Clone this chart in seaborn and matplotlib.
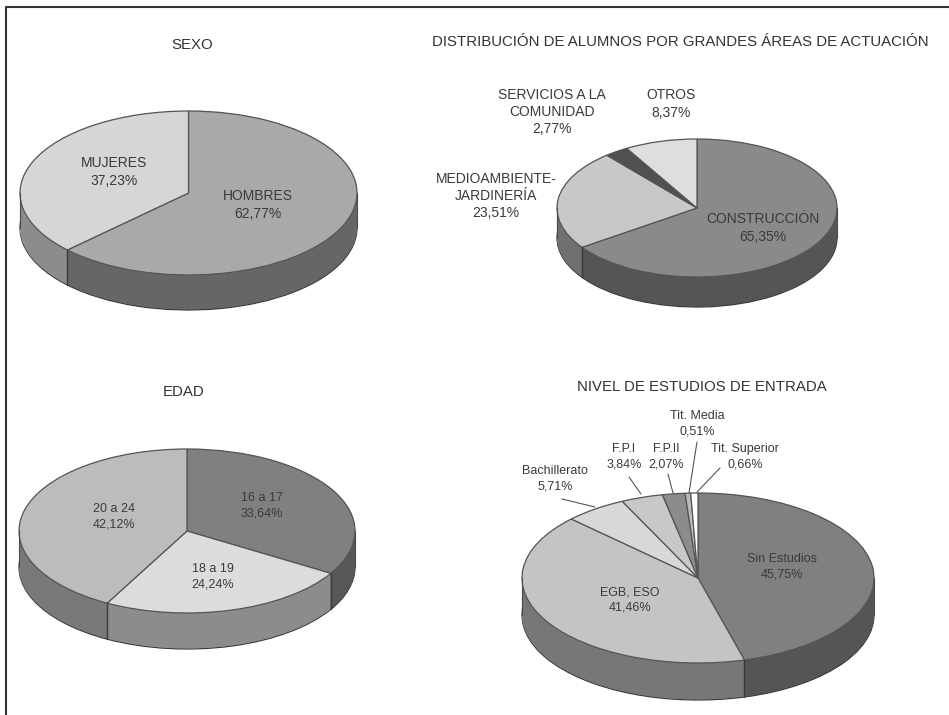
import matplotlib
matplotlib.use('Agg')
import matplotlib.pyplot as plt
import numpy as np
import seaborn as sns

W, H = 949, 715

sexo_labels = ['HOMBRES\n62,77%', 'MUJERES\n37,23%']
sexo_values = [62.77, 37.23]
sexo_top = ['#a9a9a9', '#d6d6d6']
sexo_side = ['#666666', '#8c8c8c']

areas_labels = ['CONSTRUCCIÓN\n65,35%', 'MEDIOAMBIENTE-\nJARDINERÍA\n23,51%',
                'SERVICIOS A LA\nCOMUNIDAD\n2,77%', 'OTROS\n8,37%']
areas_values = [65.35, 23.51, 2.77, 8.37]
areas_top = ['#8a8a8a', '#c8c8c8', '#505050', '#dedede']
areas_side = ['#555555', '#707070', '#444444', '#888888']

edad_labels = ['16 a 17\n33,64%', '18 a 19\n24,24%', '20 a 24\n42,12%']
edad_values = [33.64, 24.24, 42.12]
edad_top = ['#808080', '#dcdcdc', '#bcbcbc']
edad_side = ['#575757', '#8c8c8c', '#797979']

nivel_labels = ['Sin Estudios\n45,75%', 'EGB, ESO\n41,46%', 'Bachillerato\n5,71%',
                'F.P.I\n3,84%', 'F.P.II\n2,07%', 'Tit. Media\n0,51%', 'Tit. Superior\n0,66%']
nivel_values = [45.75, 41.46, 5.71, 3.84, 2.07, 0.51, 0.66]
nivel_top = ['#808080', '#c4c4c4', '#d8d8d8', '#c8c8c8', '#8c8c8c', '#bbbbbb', '#ffffff']
nivel_side = ['#555555', '#777777', '#888888', '#888888', '#555555', '#777777', '#999999']

# layout in pixels of the reference
titles = ['SEXO', 'DISTRIBUCIÓN DE ALUMNOS POR GRANDES ÁREAS DE ACTUACIÓN',
          'EDAD', 'NIVEL DE ESTUDIOS DE ENTRADA']
title_xy = [(192, 45), (680, 42), (184, 392), (702, 387)]
sexo_xy = [(258, 205), (114, 172)]
areas_xy = [(763, 228), (496, 196), (552, 112), (671, 104)]
edad_xy = [(262, 506), (213, 577), (114, 517)]
nivel_xy = [(782, 567), (630, 600), (555, 479), (624, 457), (666, 457), (697, 424), (745, 457)]
nivel_leaders = [((562, 499), (595, 507)), ((629, 477), (641, 494)), ((668, 474), (673, 493)),
                 ((697, 442), (689, 493)), ((720, 468), (697, 492))]

sns.set_theme(style='white')
plt.rcParams['font.family'] = ['Liberation Sans', 'DejaVu Sans']

fig = plt.figure(figsize=(W / 100, H / 100), dpi=100, facecolor='white')


def pie3d(values, top, side, cx, cy, rx, ry, depth):
    ax = fig.add_axes([(cx - rx) / W, 1 - (cy + ry) / H, 2 * rx / W, 2 * ry / H])
    d = depth / ry
    # bottom disc with outline, then the stack that makes the wall
    ax.pie(values, colors=side, startangle=90, counterclock=False, center=(0, -d),
           wedgeprops={'clip_on': False, 'edgecolor': '#3a3a3a', 'linewidth': 0.9})
    for off in np.linspace(d, 0, int(depth * 2))[1:]:
        ax.pie(values, colors=side, startangle=90, counterclock=False, center=(0, -off),
               wedgeprops={'clip_on': False, 'linewidth': 0})
    ax.pie(values, colors=top, startangle=90, counterclock=False,
           wedgeprops={'clip_on': False, 'edgecolor': '#555555', 'linewidth': 0.9})
    # slice edges down the front wall
    ang = np.pi / 2 - 2 * np.pi * np.cumsum(values) / np.sum(values)
    for a in ang:
        if np.sin(a) < 0:
            ax.plot([np.cos(a)] * 2, [np.sin(a), np.sin(a) - d], color='#3a3a3a', lw=1.0, clip_on=False)
    for x in (-1, 1):
        ax.plot([x, x], [0, -d], color='#4a4a4a', lw=0.8, clip_on=False)
    ax.set_aspect('auto')
    ax.set_xlim(-1, 1)
    ax.set_ylim(-1, 1)
    ax.axis('off')


pie3d(sexo_values, sexo_top, sexo_side, 188.5, 193, 168.5, 82, 35)
pie3d(areas_values, areas_top, areas_side, 697, 208, 140, 69, 30)
pie3d(edad_values, edad_top, edad_side, 187, 531, 168, 82, 36)
pie3d(nivel_values, nivel_top, nivel_side, 698, 578, 176, 85, 37)

# overlay in pixel coordinates for frame, titles, labels
over = fig.add_axes([0, 0, 1, 1], zorder=5)
over.set_xlim(0, W)
over.set_ylim(H, 0)
over.axis('off')

# frame is open on the right and at the bottom
over.plot([6.5, 6.5, W], [H, 7, 7], color='#333333', lw=1.5)

for t, (x, y) in zip(titles, title_xy):
    over.text(x, y, t, ha='center', va='center', fontsize=10.85, color='#333333')
for labels, xy, fs, sp in [(sexo_labels, sexo_xy, 10, 1.3), (areas_labels, areas_xy, 10, 1.3),
                           (edad_labels, edad_xy, 9, 1.35), (nivel_labels, nivel_xy, 9, 1.35)]:
    for t, (x, y) in zip(labels, xy):
        over.text(x, y, t, ha='center', va='center', fontsize=fs, color='#3a3a3a', linespacing=sp)
for (x0, y0), (x1, y1) in nivel_leaders:
    over.plot([x0, x1], [y0, y1], color='#555555', lw=0.8)

fig.savefig('out.png', dpi=100)
